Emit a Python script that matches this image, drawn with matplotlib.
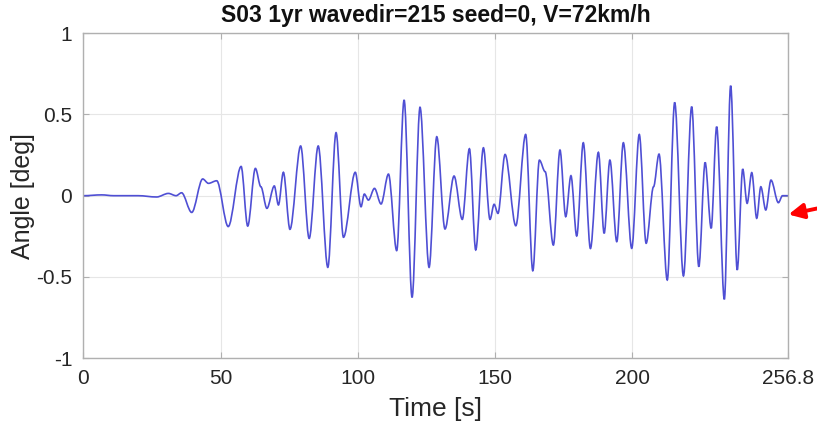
import matplotlib
matplotlib.use("Agg")
import matplotlib.pyplot as plt
from matplotlib.path import Path
from matplotlib.patches import PathPatch

# turning points of the roll angle signal
time_s = [0, 6.7, 11, 20, 26.7, 31.0, 33.8, 35.8, 39.5, 43.5,
          45.6, 48.6, 52.8, 57.5, 59.9, 62.7, 64.7, 66.9, 69.6, 71.1,
          72.9, 75.3, 79.2, 82.3, 85.6, 89.1, 92.1, 94.8, 99.1, 101.2,
          102.4, 103.9, 106.1, 108.5, 111.2, 114.2, 116.9, 119.8, 122.7, 126.0,
          128.8, 131.8, 135.1, 138.1, 140.7, 143.0, 145.8, 148.2, 149.7, 151.1,
          153.7, 157.6, 161.2, 163.8, 166.2, 168.3, 171.3, 173.7, 175.8, 177.7,
          179.8, 182.2, 184.8, 187.7, 189.8, 191.9, 194.4, 196.8, 199.85, 202.6,
          205.1, 207.8, 209.8, 212.8, 215.5, 218.7, 221.7, 224.3, 226.6, 228.8,
          230.8, 233.6, 235.9, 238.3, 240.3, 241.9, 243.6, 245.4, 246.9, 248.7,
          250.6, 253.3, 254.8, 256.8]
angle_deg = [0, 0.005, 0, 0, -0.008, 0.014, 0.0, 0.018, -0.103, 0.103,
             0.076, 0.092, -0.19, 0.18, -0.187, 0.168, 0.055, -0.078, 0.06, -0.057,
             0.144, -0.207, 0.306, -0.263, 0.306, -0.441, 0.388, -0.256, 0.144, -0.068,
             0.01, -0.027, 0.045, -0.051, 0.133, -0.338, 0.589, -0.626, 0.544, -0.441,
             0.363, -0.205, 0.121, -0.146, 0.289, -0.334, 0.295, -0.146, -0.053, -0.109,
             0.254, -0.185, 0.377, -0.462, 0.219, 0.148, -0.304, 0.281, -0.129, 0.123,
             -0.248, 0.326, -0.325, 0.267, -0.232, 0.219, -0.283, 0.326, -0.324, 0.377,
             -0.293, 0.055, 0.256, -0.519, 0.574, -0.494, 0.548, -0.437, 0.205, -0.201,
             0.425, -0.638, 0.677, -0.457, 0.164, -0.047, 0.142, -0.139, 0.055, -0.088,
             0.096, -0.043, 0.0, 0.0]

x_ticks = [0, 50, 100, 150, 200, 256.8]
x_labels = ["0", "50", "100", "150", "200", "256.8"]
y_ticks = [-1, -0.5, 0, 0.5, 1]
y_labels = ["-1", "-0.5", "0", "0.5", "1"]

plt.rcParams['font.family'] = ['Liberation Sans', 'DejaVu Sans']

fig = plt.figure(figsize=(8.17, 4.32), dpi=100)
ax = fig.add_axes([0.102, 0.171, 0.8625, 0.752])

# smooth curve through the turning points: cubic bezier with flat tangents
verts = [(time_s[0], angle_deg[0])]
codes = [Path.MOVETO]
for i in range(1, len(time_s)):
    t0, v0 = time_s[i - 1], angle_deg[i - 1]
    t1, v1 = time_s[i], angle_deg[i]
    dt = t1 - t0
    verts += [(t0 + dt / 3, v0), (t1 - dt / 3, v1), (t1, v1)]
    codes += [Path.CURVE4] * 3
ax.add_patch(PathPatch(Path(verts, codes), facecolor='none',
                       edgecolor='#4f4fd4', lw=1.2))

ax.set_xlim(0, 256.8)
ax.set_ylim(-1, 1)
ax.set_xticks(x_ticks, x_labels)
ax.set_yticks(y_ticks, y_labels)
ax.grid(True, color='#e6e6e6', lw=0.8)
ax.set_axisbelow(True)
for sp in ax.spines.values():
    sp.set_color('#b0b0b0')
    sp.set_linewidth(1.0)
ax.tick_params(direction='in', length=4, color='#b0b0b0', labelsize=15,
               labelcolor='#262626', top=True, right=True, pad=8)

ax.set_title("S03 1yr wavedir=215 seed=0, V=72km/h", fontsize=16.5,
             fontweight='bold', color='#111111', pad=8)
ax.set_xlabel("Time [s]", fontsize=19, color='#262626', labelpad=6)
ax.set_ylabel("Angle [deg]", fontsize=18, color='#262626', labelpad=1)

# red pointer at the right end
ax.annotate("", xy=(788.5, 432 - 214.5), xycoords='figure pixels',
            xytext=(817, 432 - 208.5), textcoords='figure pixels',
            arrowprops=dict(arrowstyle='-|>,head_length=0.9,head_width=0.45',
                            color='#ff0000', lw=2.8, shrinkA=0, shrinkB=0))

fig.savefig("out.png", dpi=100)
